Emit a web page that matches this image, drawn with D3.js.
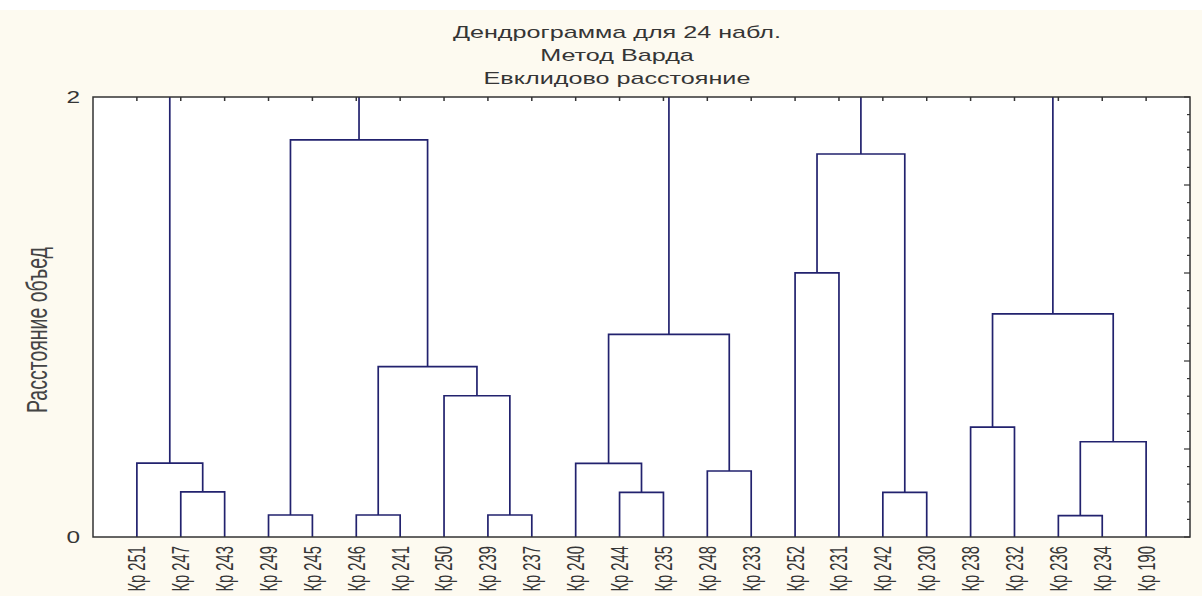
<!DOCTYPE html>
<html>
<head>
<meta charset="utf-8">
<script src="https://cdn.jsdelivr.net/npm/d3@7"></script>
<style>
  body { margin: 0; background: #fdfaf0; }
  svg { display: block; }
  text { font-family: "Liberation Sans", Arial, sans-serif; fill: #353535; }
</style>
</head>
<body>
<svg id="chart"></svg>
<script>
// leaf order as drawn on the x axis
const leaves = ["Кр 251", "Кр 247", "Кр 243", "Кр 249", "Кр 245", "Кр 246", "Кр 241", "Кр 250",
  "Кр 239", "Кр 237", "Кр 240", "Кр 244", "Кр 235", "Кр 248", "Кр 233", "Кр 252",
  "Кр 231", "Кр 242", "Кр 230", "Кр 238", "Кр 232", "Кр 236", "Кр 234", "Кр 190"];

// linkage: [child a, child b, height]; ids 0..23 are leaves, 24.. are merges in order
const linkage = [
  [3, 4, 0.100],   // 24
  [5, 6, 0.100],   // 25
  [8, 9, 0.100],   // 26
  [21, 22, 0.097], // 27
  [1, 2, 0.205],   // 28
  [11, 12, 0.203], // 29
  [17, 18, 0.203], // 30
  [13, 14, 0.300], // 31
  [0, 28, 0.336],  // 32
  [10, 29, 0.335], // 33
  [27, 23, 0.433], // 34
  [19, 20, 0.499], // 35
  [7, 26, 0.642],  // 36
  [25, 36, 0.774], // 37
  [33, 31, 0.921], // 38
  [35, 34, 1.014], // 39
  [15, 16, 1.201], // 40
  [40, 30, 1.741], // 41
  [24, 37, 1.805]  // 42
];

const yTickLabels = [0, 2];
const titleLines = ["Дендрограмма для 24 набл.", "Метод Варда", "Евклидово расстояние"];
const yLabel = "Расстояние объед";

const W = 1202, H = 596;
const plot = { left: 93, right: 1190, top: 97, bottom: 537 };
const kx = 1.48; // the source picture is stretched sideways

const svg = d3.select("#chart").attr("width", W).attr("height", H);

svg.append("rect").attr("width", W).attr("height", H).attr("fill", "#fdfaf0");
svg.append("rect").attr("width", W).attr("height", 10).attr("fill", "#ffffff");

const x = d3.scalePoint().domain(leaves).range([plot.left, plot.right]).padding(1);
const y = d3.scaleLinear().domain([0, 2]).range([plot.bottom, plot.top]);

svg.append("rect")
  .attr("x", plot.left).attr("y", plot.top)
  .attr("width", plot.right - plot.left).attr("height", plot.bottom - plot.top)
  .attr("fill", "#ffffff");

svg.append("clipPath").attr("id", "clip")
  .append("rect")
  .attr("x", plot.left).attr("y", plot.top)
  .attr("width", plot.right - plot.left).attr("height", plot.bottom - plot.top);

// node positions
const nodes = leaves.map(d => ({ x: x(d), h: 0 }));
const used = new Set();
linkage.forEach(([a, b, h]) => {
  used.add(a); used.add(b);
  nodes.push({ x: (nodes[a].x + nodes[b].x) / 2, h: h, a: a, b: b });
});

const g = svg.append("g").attr("clip-path", "url(#clip)");

g.selectAll(".link")
  .data(nodes.filter(n => n.a !== undefined))
  .enter().append("path")
  .attr("class", "link")
  .attr("fill", "none")
  .attr("stroke", "#22226e")
  .attr("stroke-width", 1.7)
  .attr("d", n => {
    const A = nodes[n.a], B = nodes[n.b];
    return `M${A.x},${y(A.h)}V${y(n.h)}H${B.x}V${y(B.h)}`;
  });

// stems of the top clusters run off the top of the plot
g.selectAll(".stem")
  .data(nodes.filter((n, i) => !used.has(i)))
  .enter().append("line")
  .attr("class", "stem")
  .attr("stroke", "#22226e")
  .attr("stroke-width", 1.7)
  .attr("x1", n => n.x).attr("x2", n => n.x)
  .attr("y1", n => y(n.h)).attr("y2", y(2));

// frame
svg.append("rect")
  .attr("x", plot.left).attr("y", plot.top)
  .attr("width", plot.right - plot.left).attr("height", plot.bottom - plot.top)
  .attr("fill", "none").attr("stroke", "#333").attr("stroke-width", 1.5);

// top ticks at leaf positions
svg.selectAll(".ttick")
  .data(leaves)
  .enter().append("line")
  .attr("x1", d => x(d)).attr("x2", d => x(d))
  .attr("y1", plot.top).attr("y2", plot.top + 4)
  .attr("stroke", "#333").attr("stroke-width", 1.5);

// right ticks: major every 0.4, minor every 0.08
const minor = d3.range(0, 2.0001, 0.08);
svg.selectAll(".rtick")
  .data(minor)
  .enter().append("line")
  .attr("y1", d => y(d)).attr("y2", d => y(d))
  .attr("x1", plot.right)
  .attr("x2", (d, i) => plot.right - (i % 5 === 0 ? 6 : 3))
  .attr("stroke", "#333").attr("stroke-width", 1.2);

// y tick labels
svg.selectAll(".ylab")
  .data(yTickLabels)
  .enter().append("text")
  .attr("transform", d => `translate(${plot.left - 13},${y(d)}) scale(${kx},1)`)
  .attr("text-anchor", "end")
  .attr("dy", "0.36em")
  .style("font-size", "16.5px")
  .text(d => d);

// leaf labels
svg.selectAll(".xlab")
  .data(leaves)
  .enter().append("text")
  .attr("transform", d => `translate(${x(d)},${plot.bottom + 9}) scale(${kx + 0.1},1) rotate(-90)`)
  .attr("text-anchor", "end")
  .attr("dy", "0.36em")
  .style("font-size", "14.8px")
  .text(d => d);

// y axis title
svg.append("text")
  .attr("transform", `translate(37,330) scale(${kx},1) rotate(-90)`)
  .attr("text-anchor", "middle")
  .attr("dy", "0.36em")
  .style("font-size", "19.5px")
  .style("fill", "#444")
  .text(yLabel);

// chart title
svg.selectAll(".title")
  .data(titleLines)
  .enter().append("text")
  .attr("transform", (d, i) => `translate(617,${37.5 + i * 23}) scale(${kx},1)`)
  .attr("text-anchor", "middle")
  .style("font-size", "17px")
  .text(d => d);
</script>
</body>
</html>
